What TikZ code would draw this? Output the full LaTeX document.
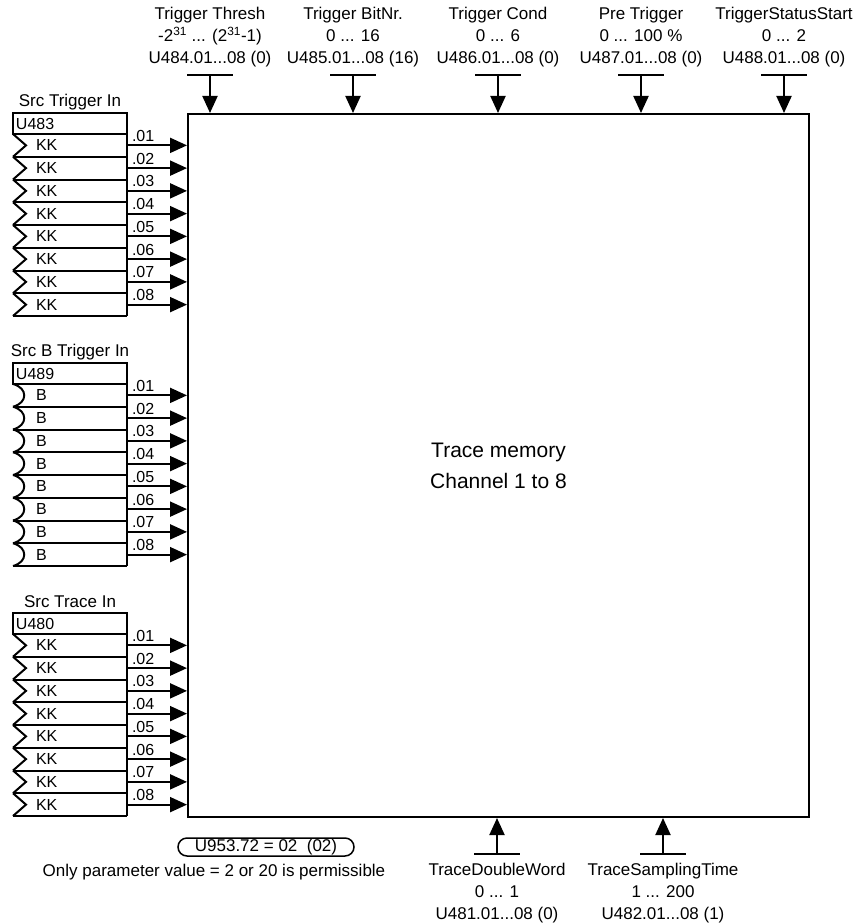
\documentclass[tikz,border=0pt]{standalone}
\usepackage{fontspec}
\setmainfont{Liberation Sans}
\usetikzlibrary{arrows.meta}
\newcommand{\tdots}{...}
\tikzset{
  lbl/.style={font=\fontsize{17}{22}\selectfont, inner sep=0pt},
  sml/.style={font=\fontsize{16}{19}\selectfont, inner sep=0pt},
  inarrow/.style={-{Triangle[length=17pt,width=15pt]}},
}
\begin{document}
\begin{tikzpicture}[x=1pt,y=-1pt,line width=2pt]
\useasboundingbox (0,0) rectangle (859,923);
\node[draw, anchor=north west, minimum width=621pt, minimum height=703pt, inner sep=0pt,
  align=center, font=\fontsize{21}{31}\selectfont] (mem) at (187,113) {Trace memory\\Channel 1 to 8};
\foreach \x/\nm/\rg/\pa [count=\n] in {210/Trigger Thresh/-2\textsuperscript{31} \tdots{} (2\textsuperscript{31}-1)/U484.01\tdots08 (0),
  353/Trigger BitNr./0 \tdots{} 16/U485.01\tdots08 (16), 498/Trigger Cond/0 \tdots{} 6/U486.01\tdots08 (0),
  641/Pre Trigger/0 \tdots{} 100 \%/U487.01\tdots08 (0), 784/TriggerStatusStart/0 \tdots{} 2/U488.01\tdots08 (0)}{
  \node[lbl, align=center] (tl\n) at (\x,37) {\nm\\\rg\\\pa};
  \coordinate (tb\n) at (\x,75);
  \draw ([xshift=-23pt]tb\n) -- ([xshift=23pt]tb\n);
  \draw[inarrow] (tb\n) -- (tb\n |- mem.north);
}
\foreach \yt/\ttl/\hd [count=\n] in {113/Src Trigger In/U483, 363/Src B Trigger In/U489, 613/Src Trace In/U480}{
  \node[lbl] (src\n) at (70,\yt-11) {\ttl};
  \draw (13,\yt) rectangle (127,\yt+21);
  \node[sml, anchor=west] (hd\n) at (15,\yt+10.5) {\hd};
  \draw (127,\yt+21) -- (127,\yt+203);
  \foreach \k in {1,...,8}{
    \pgfmathsetmacro{\ya}{\yt+21+(\k-1)*22.75}
    \pgfmathsetmacro{\yb}{\ya+11.375}
    \pgfmathsetmacro{\yc}{\ya+22.75}
    \draw (13,\yc) -- (127,\yc);
    \ifnum\n=2
      \draw (13,\ya) .. controls (28,\ya+4) and (28,\yc-4) .. (13,\yc);
      \node[sml, anchor=west] (in\n\k) at (35,\yb) {B};
    \else
      \draw (13,\ya) -- (26,\yb) -- (13,\yc);
      \node[sml, anchor=west] (in\n\k) at (35,\yb) {KK};
    \fi
    \coordinate (out\n\k) at (127,\yb);
    \draw[inarrow] (out\n\k) -- (out\n\k -| mem.west);
    \node[sml, anchor=base west] (ch\n\k) at (131,\yb-4) {.0\k};
  }
}
\foreach \x/\nm/\rg/\pa [count=\n] in {497/TraceDoubleWord/0 \tdots{} 1/U481.01\tdots08 (0),
  663/TraceSamplingTime/1 \tdots{} 200/U482.01\tdots08 (1)}{
  \coordinate (bb\n) at (\x,854);
  \draw ([xshift=-23pt]bb\n) -- ([xshift=23pt]bb\n);
  \draw[inarrow] (bb\n) -- (bb\n |- mem.south);
  \node[lbl, align=center] (bl\n) at (\x,893) {\nm\\\rg\\\pa};
}
\node[draw, line width=1.5pt, rounded corners=9pt, minimum width=176pt, minimum height=18pt,
  inner sep=0pt, lbl] (par) at (266,847) {U953.72 = 02\ \ (02)};
\node[lbl] (note) at (214,872) {Only parameter value = 2 or 20 is permissible};
\end{tikzpicture}
\end{document}
